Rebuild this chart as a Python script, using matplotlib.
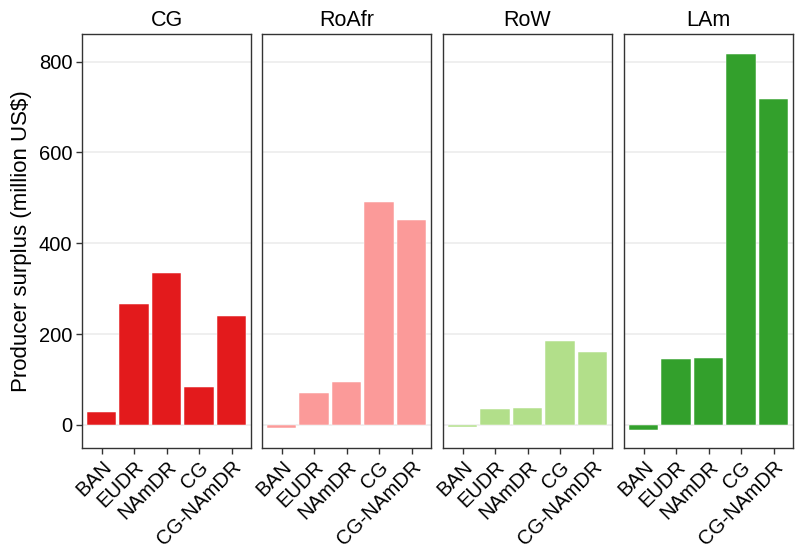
import numpy as np
import matplotlib
matplotlib.use("Agg")
import matplotlib.pyplot as plt

plt.rcParams['font.family'] = ['Liberation Sans', 'DejaVu Sans']

regions = ['CG', 'RoAfr', 'RoW', 'LAm']
scenarios = ['BAN', 'EUDR', 'NAmDR', 'CG', 'CG-NAmDR']
colors = ['#E31A1C', '#FB9A99', '#B2DF8A', '#33A02C']

# producer surplus, million US$, per scenario
cg_vals = [29, 267, 335, 84, 240]
roafr_vals = [-8, 70, 95, 491, 452]
row_vals = [-4, 36, 38, 184, 160]
lam_vals = [-11, 144, 148, 818, 717]
values = [cg_vals, roafr_vals, row_vals, lam_vals]

W, H = 795, 557
fig = plt.figure(figsize=(W / 100, H / 100), dpi=100)

lefts = [82, 262, 443, 624]
pw = 169
top, bot = 34, 448

x = np.arange(len(scenarios))
for i, reg in enumerate(regions):
    ax = fig.add_axes([lefts[i] / W, (H - bot) / H, pw / W, (bot - top) / H])
    ax.bar(x, values[i], width=0.9, color=colors[i], edgecolor='white', linewidth=0.35, zorder=2)
    ax.set_ylim(-51, 861)
    ax.set_xlim(-0.6, 4.6)
    ax.set_yticks([0, 200, 400, 600, 800])
    ax.grid(axis='y', color='#EBEBEB', linewidth=1.1, zorder=0)
    ax.set_axisbelow(True)
    ax.set_xticks(x)
    ax.set_xticklabels(scenarios, rotation=45, ha='right', va='top',
                       rotation_mode='anchor', fontsize=14.5)
    ax.tick_params(axis='both', length=4, width=1, color='#333333', labelcolor='black', pad=3)
    ax.tick_params(axis='y', labelsize=14.5)
    for s in ax.spines.values():
        s.set_color('#333333')
        s.set_linewidth(1)
    if i > 0:
        ax.tick_params(axis='y', labelleft=False, left=False)
    else:
        ax.set_ylabel('Producer surplus (million US$)', fontsize=16, labelpad=5)
    ax.set_title(reg, fontsize=15.5, pad=6)

fig.savefig('out.png', dpi=100)
